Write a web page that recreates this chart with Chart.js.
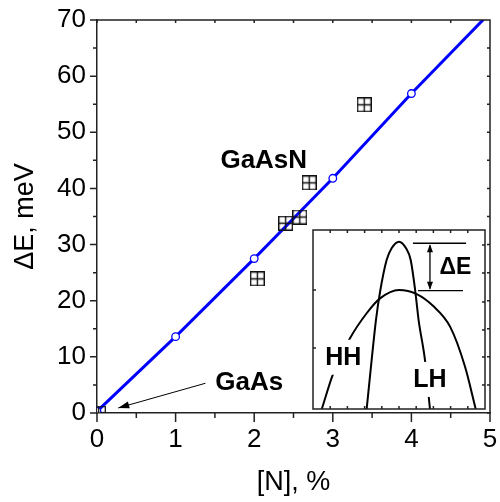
<!DOCTYPE html>
<html><head><meta charset="utf-8">
<script src="https://cdn.jsdelivr.net/npm/chart.js@4.4.1/dist/chart.umd.min.js"></script>
<style>
html,body{margin:0;padding:0;background:#fff;}
#wrap{position:relative;width:500px;height:502px;}
#c1{position:absolute;left:0;top:0;}
#c2{position:absolute;left:311px;top:228px;}
</style></head><body>
<div id="wrap">
<canvas id="c1" width="500" height="502"></canvas>
<canvas id="c2" width="176" height="183"></canvas>
</div>
<script>
// ---- data ----
const nPercent = [0, 1, 2, 3, 4, 5];
const calcDeltaE = [0.3, 13.6, 27.5, 41.8, 56.9, 71.3];
const expN = [0.02, 2.04, 2.40, 2.58, 2.70, 3.40];
const expDeltaE = [0.0, 23.9, 33.8, 34.9, 41.0, 54.9];
const xTickLabels = [0, 1, 2, 3, 4, 5];
const yTickLabels = [0, 10, 20, 30, 40, 50, 60, 70];

// inset: heavy-hole (broad) and light-hole (narrow) band curves
const hhX = [0.51, 1.18, 2.15, 3.12, 3.90, 5.00, 6.03, 6.99, 7.97, 8.84, 9.46];
const hhY = [0.0, 1.99, 3.95, 5.35, 6.18, 6.65, 6.42, 5.75, 4.60, 2.36, 0.0];
const lhX = [3.12, 3.41, 3.66, 3.90, 4.28, 4.57, 5.00, 5.41, 5.68, 5.95, 6.14, 6.51, 6.80];
const lhY = [0.0, 2.74, 4.97, 6.55, 8.32, 8.98, 9.35, 8.98, 8.32, 6.55, 4.97, 2.74, 0.0];

const FONT = "'Liberation Sans', Arial, Helvetica, sans-serif";

function makeBox() {
  const s = 15, cv = document.createElement('canvas');
  cv.width = s; cv.height = s;
  const g = cv.getContext('2d');
  g.strokeStyle = '#111'; g.lineWidth = 1.4;
  g.strokeRect(0.7, 0.7, s - 1.4, s - 1.4);
  g.beginPath(); g.moveTo(s / 2, 0.7); g.lineTo(s / 2, s - 0.7);
  g.moveTo(0.7, s / 2); g.lineTo(s - 0.7, s / 2); g.stroke();
  return cv;
}

function arrowHead(ctx, x0, y0, x1, y1, len, hw) {
  const a = Math.atan2(y1 - y0, x1 - x0);
  ctx.beginPath();
  ctx.moveTo(x1, y1);
  ctx.lineTo(x1 - len * Math.cos(a) + hw * Math.sin(a), y1 - len * Math.sin(a) - hw * Math.cos(a));
  ctx.lineTo(x1 - len * Math.cos(a) - hw * Math.sin(a), y1 - len * Math.sin(a) + hw * Math.cos(a));
  ctx.closePath(); ctx.fill();
}

const mainDecor = {
  id: 'mainDecor',
  afterDraw(chart) {
    const { ctx, chartArea: a, scales: { x, y } } = chart;
    ctx.save();
    ctx.strokeStyle = '#222'; ctx.lineWidth = 1.5;
    ctx.beginPath();
    ctx.moveTo(a.left, a.top); ctx.lineTo(a.right, a.top); ctx.lineTo(a.right, a.bottom);
    x.ticks.forEach(t => {
      const px = x.getPixelForValue(t.value);
      const major = xTickLabels.includes(t.value);
      ctx.moveTo(px, a.bottom); ctx.lineTo(px, a.bottom + (major ? 9 : 5));
      ctx.moveTo(px, a.top); ctx.lineTo(px, a.top + 3);
    });
    y.ticks.forEach(t => {
      const py = y.getPixelForValue(t.value);
      const major = yTickLabels.includes(t.value);
      ctx.moveTo(a.left, py); ctx.lineTo(a.left - (major ? 7 : 4), py);
      ctx.moveTo(a.right, py); ctx.lineTo(a.right - 3, py);
    });
    ctx.stroke();

    // labels and arrow
    ctx.fillStyle = '#000';
    ctx.font = 'bold 26px ' + FONT;
    ctx.textAlign = 'left'; ctx.textBaseline = 'middle';
    ctx.fillText('GaAsN', x.getPixelForValue(1.57), y.getPixelForValue(44.9));
    ctx.fillText('GaAs', x.getPixelForValue(1.505), y.getPixelForValue(5.3));
    const ax0 = x.getPixelForValue(1.38), ay0 = y.getPixelForValue(5.3);
    const ax1 = x.getPixelForValue(0.27), ay1 = y.getPixelForValue(0.9);
    ctx.strokeStyle = '#000'; ctx.lineWidth = 1;
    ctx.beginPath(); ctx.moveTo(ax0, ay0); ctx.lineTo(ax1, ay1); ctx.stroke();
    arrowHead(ctx, ax0, ay0, ax1, ay1, 11, 3.5);
    ctx.restore();
  }
};

new Chart(document.getElementById('c1'), {
  type: 'scatter',
  data: {
    datasets: [
      {
        type: 'line',
        data: nPercent.map((v, i) => ({ x: v, y: calcDeltaE[i] })),
        borderColor: '#0000ff', borderWidth: 3,
        pointRadius: ctx => (ctx.dataIndex < 5 ? 3.8 : 0),
        pointBackgroundColor: '#ffffff', pointBorderColor: '#0000ff', pointBorderWidth: 1.3,
        tension: 0, order: 1
      },
      {
        type: 'scatter',
        data: expN.map((v, i) => ({ x: v, y: expDeltaE[i] })),
        pointStyle: makeBox(), clip: 0, order: 0
      }
    ]
  },
  options: {
    responsive: false, animation: false, devicePixelRatio: 1,
    layout: { padding: { left: 9, right: 10, top: 20, bottom: 3 } },
    plugins: { legend: { display: false }, tooltip: { enabled: false } },
    scales: {
      x: {
        type: 'linear', min: 0, max: 5,
        ticks: {
          stepSize: 0.5, autoSkip: false, maxRotation: 0, padding: 2,
          color: '#000', font: { family: FONT, size: 26 },
          callback: v => (xTickLabels.includes(v) ? String(v) : '')
        },
        grid: { drawOnChartArea: false, tickLength: 9, tickColor: 'rgba(0,0,0,0)' },
        border: { display: true, color: '#222', width: 1.5 },
        title: { display: true, text: '[N], %', color: '#000', font: { family: FONT, size: 27 }, padding: 0 },
        afterFit: s => { s.height = 86; }
      },
      y: {
        type: 'linear', min: 0, max: 70,
        ticks: {
          stepSize: 5, autoSkip: false, padding: 4,
          color: '#000', font: { family: FONT, size: 26 },
          callback: v => (yTickLabels.includes(v) ? String(v) : '')
        },
        grid: { drawOnChartArea: false, tickLength: 7, tickColor: 'rgba(0,0,0,0)' },
        border: { display: true, color: '#222', width: 1.5 },
        title: { display: true, text: '\u0394E, meV', color: '#000', font: { family: FONT, size: 27 }, padding: 0 },
        afterFit: s => { s.width = 88; }
      }
    }
  },
  plugins: [mainDecor]
});

// ---- inset ----
const insetDecor = {
  id: 'insetDecor',
  afterDatasetsDraw(chart) {
    const { ctx, chartArea: a, scales: { x, y } } = chart;
    ctx.save();
    // label boxes hiding curves
    ctx.font = 'bold 25px ' + FONT;
    ctx.textAlign = 'center'; ctx.textBaseline = 'middle';
    const labels = [['HH', 1.76, 2.92], ['LH', 6.80, 1.68]];
    labels.forEach(([t, lx, ly]) => {
      const px = x.getPixelForValue(lx), py = y.getPixelForValue(ly);
      const w = ctx.measureText(t).width;
      ctx.fillStyle = '#fff';
      ctx.fillRect(px - w / 2 - 2, py - 17, w + 4, 35);
      ctx.fillStyle = '#000';
      ctx.fillText(t, px, py + 1);
    });
    ctx.font = 'bold 23px ' + FONT;
    ctx.fillText('\u0394E', x.getPixelForValue(8.28), y.getPixelForValue(7.95) + 1);

    // frame
    ctx.strokeStyle = '#222'; ctx.lineWidth = 1.5;
    ctx.strokeRect(a.left, a.top, a.right - a.left, a.bottom - a.top);
    ctx.beginPath();
    for (let v = 1; v < 10; v++) {
      const px = x.getPixelForValue(v);
      ctx.moveTo(px, a.top); ctx.lineTo(px, a.top + 3);
      ctx.moveTo(px, a.bottom); ctx.lineTo(px, a.bottom - 3);
    }
    [1.34, 2.91, 4.41, 5.98, 7.60, 9.16].forEach(v => {
      const py = y.getPixelForValue(v);
      ctx.moveTo(a.right, py); ctx.lineTo(a.right - 3, py);
    });
    [3.41, 6.65].forEach(v => {
      const py = y.getPixelForValue(v);
      ctx.moveTo(a.left, py); ctx.lineTo(a.left + 3, py);
    });
    ctx.stroke();

    // delta E marker
    ctx.strokeStyle = '#000'; ctx.lineWidth = 1.3; ctx.fillStyle = '#000';
    const yt = y.getPixelForValue(9.26), yb = y.getPixelForValue(6.61);
    ctx.beginPath();
    ctx.moveTo(x.getPixelForValue(5.81), yt); ctx.lineTo(x.getPixelForValue(8.90), yt);
    ctx.moveTo(x.getPixelForValue(6.10), yb); ctx.lineTo(x.getPixelForValue(8.72), yb);
    const xa = x.getPixelForValue(6.80);
    ctx.moveTo(xa, yt + 2); ctx.lineTo(xa, yb - 2);
    ctx.stroke();
    arrowHead(ctx, xa, yb, xa, yt + 1, 8, 3);
    arrowHead(ctx, xa, yt, xa, yb - 1, 8, 3);
    ctx.restore();
  }
};

new Chart(document.getElementById('c2'), {
  type: 'line',
  data: {
    datasets: [
      { data: hhX.map((v, i) => ({ x: v, y: hhY[i] })), borderColor: '#000', borderWidth: 2, pointRadius: 0, cubicInterpolationMode: 'monotone' },
      { data: lhX.map((v, i) => ({ x: v, y: lhY[i] })), borderColor: '#000', borderWidth: 2, pointRadius: 0, cubicInterpolationMode: 'monotone' }
    ]
  },
  options: {
    responsive: false, animation: false, devicePixelRatio: 1,
    layout: { padding: 2 },
    plugins: { legend: { display: false }, tooltip: { enabled: false } },
    scales: {
      x: { type: 'linear', min: 0, max: 10, display: false },
      y: { type: 'linear', min: 0, max: 10, display: false }
    }
  },
  plugins: [insetDecor]
});
</script>
</body></html>
